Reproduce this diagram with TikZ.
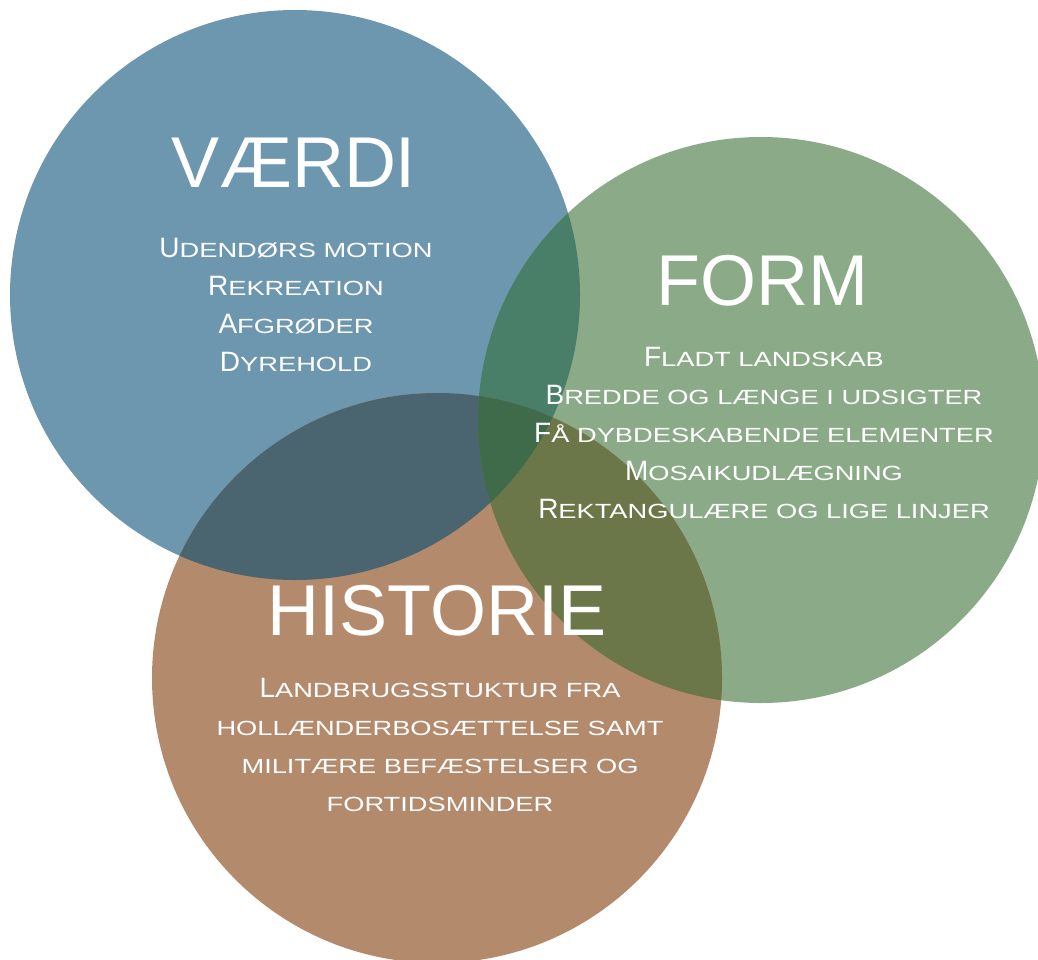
\documentclass[tikz,border=0pt]{standalone}
\usepackage{fontspec}
\setmainfont{Liberation Sans}
\newfontfamily\scs[FakeStretch=1.33]{Liberation Sans}
\newcommand\BL[1]{{\normalfont\fontsize{28}{38}\selectfont #1}}
\definecolor{cblue}{HTML}{6D97AF}
\definecolor{cgreen}{HTML}{8BAA87}
\definecolor{cbrown}{HTML}{B38A6C}
\definecolor{cbg}{HTML}{497F69}
\definecolor{cbr}{HTML}{4A6470}
\definecolor{cgr}{HTML}{6B7749}
\definecolor{cbgr}{HTML}{3F6B4A}
\tikzset{
  title/.style={text=white, inner sep=0pt, anchor=base, font=\fontsize{72}{80}\selectfont},
  items/.style={text=white, inner sep=0pt, anchor=base, align=center, font=\scs\fontsize{20.5}{38}\selectfont},
}
\begin{document}
\begin{tikzpicture}[x=1pt,y=-1pt]
\useasboundingbox (0,0) rectangle (1038,959);
\clip (0,0) rectangle (1038,959);
\def\R{285}
\def\Rg{283}
\coordinate (B) at (295,295);
\coordinate (G) at (761,420);
\coordinate (H) at (437,678);
% single circles
\fill[cblue] (B) circle (\R);
\fill[cgreen] (G) circle (\Rg);
\fill[cbrown] (H) circle (\R);
% pairwise overlaps
\begin{scope}\clip (B) circle (\R); \fill[cbg] (G) circle (\Rg); \end{scope}
\begin{scope}\clip (B) circle (\R); \fill[cbr] (H) circle (\R); \end{scope}
\begin{scope}\clip (G) circle (\Rg); \fill[cgr] (H) circle (\R); \end{scope}
% triple overlap
\begin{scope}\clip (B) circle (\R); \clip (G) circle (\Rg); \fill[cbgr] (H) circle (\R); \end{scope}
% texts (base anchor = baseline of the last line)
\node[title] (tv) at (294,187) {VÆRDI};
\node[items] (iv) at (296,371) {\BL{U}DENDØRS MOTION\\\BL{R}EKREATION\\\BL{A}FGRØDER\\\BL{D}YREHOLD};
\node[title] (tf) at (762,305) {FORM};
\node[items] (if) at (764,518) {\BL{F}LADT LANDSKAB\\\BL{B}REDDE OG LÆNGE I UDSIGTER\\\BL{F}Å DYBDESKABENDE ELEMENTER\\\BL{M}OSAIKUDLÆGNING\\\BL{R}EKTANGULÆRE OG LIGE LINJER};
\node[title] (th) at (437,635) {HISTORIE};
\node[items] (ih) at (440,811) {\BL{L}ANDBRUGSSTUKTUR FRA\\HOLLÆNDERBOSÆTTELSE SAMT\\MILITÆRE BEFÆSTELSER OG\\FORTIDSMINDER};
\end{tikzpicture}
\end{document}
